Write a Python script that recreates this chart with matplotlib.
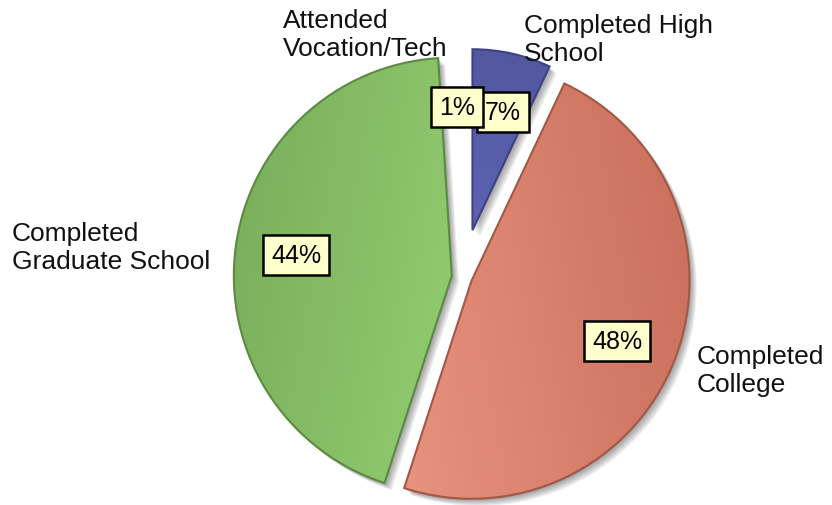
import numpy as np
import matplotlib
matplotlib.use("Agg")
import matplotlib.pyplot as plt
from matplotlib.patches import Wedge
from matplotlib.colors import to_rgb

plt.rcParams["font.family"] = ["Liberation Sans", "DejaVu Sans"]

categories = ["Completed High\nSchool", "Completed\nCollege",
              "Completed\nGraduate School", "Attended\nVocation/Tech"]
values = [7, 48, 44, 1]
pct_labels = ["7%", "48%", "44%", "1%"]

# gradient colours (start, end, direction in degrees) and outline colour per slice
grad = [("#4e5398", "#6d73cc", -100), ("#f8a892", "#c46856", 10),
        ("#74a656", "#aaec85", -10), (None, None, 0)]
edges = ["#3c4286", "#a35746", "#5b8a43", "none"]
explode = [0.22, 0.047, 0.047, 0.047]

W, H = 832, 506
PX = 218.0            # pixels per data unit
cx_px, cy_px = 462, 278

fig = plt.figure(figsize=(W / 100, H / 100), dpi=100)
ax = fig.add_axes([0, 0, 1, 1])

wedges, _ = ax.pie(values, explode=explode, startangle=90, counterclock=False,
                   colors=["none"] * 4, radius=1.0,
                   wedgeprops=dict(linewidth=1.5))
wedges[0].set_radius(0.83)

for w, (c1, c2, ang), ec in zip(wedges, grad, edges):
    w.set_edgecolor(ec)
    w.set_zorder(3)
    if c1 is None:
        continue
    cx, cy = w.center
    r = w.r
    # soft shadow down-right
    for k in range(6, 0, -1):
        off = k * 1.2 / PX
        ax.add_patch(Wedge((cx + off, cy - off), r, w.theta1, w.theta2,
                           facecolor="#000000", edgecolor="none",
                           alpha=0.07, zorder=1))
    # gradient fill clipped to the wedge
    n = 200
    xs, ys = np.meshgrid(np.linspace(-1, 1, n), np.linspace(-1, 1, n))
    d = np.deg2rad(ang)
    t = (xs * np.cos(d) + ys * np.sin(d) + 1.4) / 2.8
    t = np.clip(t, 0, 1)[..., None]
    img = (1 - t) * np.array(to_rgb(c1)) + t * np.array(to_rgb(c2))
    im = ax.imshow(img, extent=[cx - r, cx + r, cy - r, cy + r],
                   origin="lower", zorder=2, interpolation="bilinear")
    im.set_clip_path(w)

ax.set_aspect("equal")
ax.set_xlim(-cx_px / PX, (W - cx_px) / PX)
ax.set_ylim(-(H - cy_px) / PX, cy_px / PX)
ax.axis("off")

# percentage boxes (pixel positions of box centres)
pct_pos = [(503, 113), (617, 342), (296, 256), (457, 108)]
for lab, (x, y) in zip(pct_labels, pct_pos):
    fig.text(x / W, 1 - y / H, lab, fontsize=18, ha="center", va="center",
             zorder=10,
             bbox=dict(boxstyle="square,pad=0.33", fc="#ffffcc", ec="black", lw=1.8))

# category labels (left edge, vertical centre in pixels)
cat_pos = [(524, 40), (697, 371), (12, 248), (283, 35)]
for lab, (x, y) in zip(categories, cat_pos):
    fig.text(x / W, 1 - y / H, lab, fontsize=19, ha="left", va="center",
             color="#111111", linespacing=1.2, zorder=9)

plt.savefig("out.png", dpi=100)
